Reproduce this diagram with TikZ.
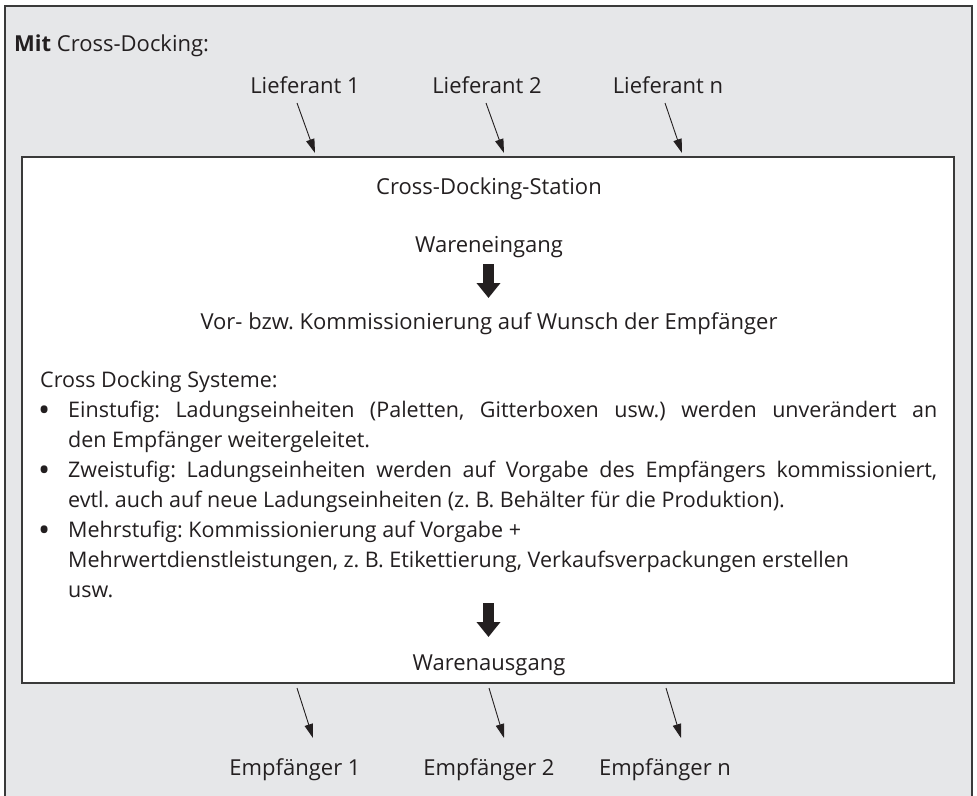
\documentclass[tikz,border=0pt]{standalone}
\usepackage{fontspec}
\usepackage{graphicx}
\setmainfont{Open Sans}
\usetikzlibrary{arrows.meta,calc}
\definecolor{bggrey}{HTML}{E6E7E9}
\definecolor{framegrey}{HTML}{3A3A3A}
\definecolor{ink}{HTML}{231F20}
\tikzset{
  lbl/.style={font=\fontsize{22}{30}\selectfont, text=ink, inner sep=0pt},
  listtext/.style={font=\fontsize{21.5}{30}\selectfont\frenchspacing, text=ink, inner sep=0pt},
  thin arrow/.style={draw=ink, line width=0.9pt, -{Triangle[width=8.5pt,length=14pt]}},
  thick arrow/.style={draw=ink, line width=11pt, -{Triangle[width=23pt,length=15pt]}},
}
\newcommand{\bigbul}{\makebox[10pt][c]{\raisebox{-4.3pt}{\scalebox{1.5}{\textbullet}}}}
\begin{document}
\begin{tikzpicture}[x=1pt,y=-1pt]
\useasboundingbox (0,0) rectangle (977,795);
\begin{scope}
\clip (0,0) rectangle (977,795);
\draw[framegrey, fill=bggrey, line width=1.3pt] (5,6) rectangle (972,805);
\end{scope}
\draw[framegrey, fill=white, line width=1.3pt] (22,157) rectangle (954,683);

\node[lbl, anchor=base west] (title) at (14,51) {\textbf{Mit} Cross-Docking:};

\node[lbl, anchor=base] (l1) at (305,93) {Lieferant 1};
\node[lbl, anchor=base] (l2) at (487,93) {Lieferant 2};
\node[lbl, anchor=base] (ln) at (668,93) {Lieferant n};
\coordinate (s1) at (297,103);
\coordinate (s2) at (486,103);
\coordinate (sn) at (665,103);
\coordinate (t1) at (315,153);
\coordinate (t2) at (504,153);
\coordinate (tn) at (682,153);
\draw[thin arrow] (s1) -- (t1);
\draw[thin arrow] (s2) -- (t2);
\draw[thin arrow] (sn) -- (tn);

\node[lbl, anchor=base] (station) at (489,194) {Cross-Docking-Station};
\node[lbl, anchor=base] (we) at (489,252) {Wareneingang};
\node[lbl, anchor=base] (vor) at (489,329) {Vor- bzw.\ Kommissionierung auf Wunsch der Empf\"anger};
\coordinate (a1) at (488.5,264);
\coordinate (b1) at (488.5,298);
\draw[thick arrow] (a1) -- (b1);

\node[listtext, anchor=north west, text width=897pt, align=justify] (list) at (40,371) {%
Cross Docking Systeme:\par
\begin{list}{\bigbul}{\setlength{\leftmargin}{28pt}\setlength{\labelwidth}{10pt}\setlength{\labelsep}{19pt}\setlength{\itemsep}{0pt}\setlength{\parsep}{0pt}\setlength{\topsep}{0pt}\setlength{\partopsep}{0pt}\setlength{\itemindent}{0pt}}
\item Einstufig: Ladungseinheiten (Paletten, Gitterboxen usw.) werden unver\"andert an\linebreak den Empf\"anger weitergeleitet.
\item Zweistufig: Ladungseinheiten werden auf Vorgabe des Empf\"angers kommissioniert,\linebreak evtl. auch auf neue Ladungseinheiten (z. B. Beh\"alter f\"ur die Produktion).
\item Mehrstufig: Kommissionierung auf Vorgabe +\newline Mehrwertdienstleistungen, z. B. Etikettierung, Verkaufsverpackungen erstellen\newline usw.
\end{list}};

\coordinate (a2) at (488.5,603);
\coordinate (b2) at (488.5,637);
\draw[thick arrow] (a2) -- (b2);
\node[lbl, anchor=base] (wa) at (489,670) {Warenausgang};

\node[lbl, anchor=base] (e1) at (295,775) {Empf\"anger 1};
\node[lbl, anchor=base] (e2) at (489,775) {Empf\"anger 2};
\node[lbl, anchor=base] (en) at (665,775) {Empf\"anger n};
\coordinate (u1) at (297,688);
\coordinate (u2) at (489,688);
\coordinate (un) at (666,688);
\coordinate (v1) at (313,738);
\coordinate (v2) at (504,738);
\coordinate (vn) at (681,738);
\draw[thin arrow] (u1) -- (v1);
\draw[thin arrow] (u2) -- (v2);
\draw[thin arrow] (un) -- (vn);
\end{tikzpicture}
\end{document}
